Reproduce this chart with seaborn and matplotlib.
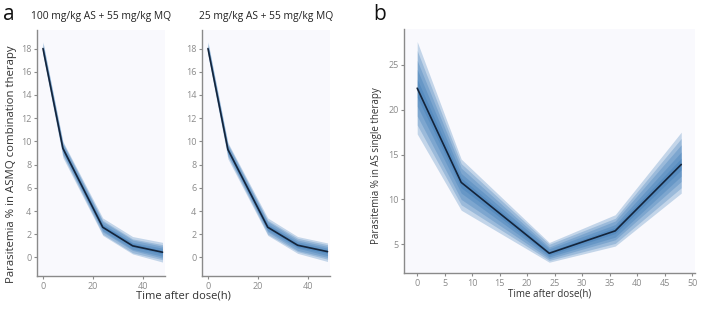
import numpy as np
import pandas as pd
import matplotlib
matplotlib.use("Agg")
import matplotlib.pyplot as plt
import seaborn as sns

sns.set_theme(style="white")
plt.rcParams['font.family'] = ['Open Sans', 'DejaVu Sans']

# ---- data ----
time_h = [0, 8, 24, 36, 48]

# panel a, left: 100 mg/kg AS + 55 mg/kg MQ
a1_mean = [18.0, 9.4, 2.6, 1.0, 0.45]
a1_hi = [[18.6, 10.0, 3.4, 1.8, 1.30],
         [18.5, 9.9, 3.2, 1.6, 1.10],
         [18.4, 9.8, 3.1, 1.5, 0.96],
         [18.2, 9.6, 2.9, 1.3, 0.80],
         [18.1, 9.5, 2.8, 1.2, 0.60]]
a1_lo = [[17.4, 8.6, 1.9, 0.3, -0.40],
         [17.5, 8.8, 2.0, 0.4, -0.20],
         [17.6, 8.9, 2.2, 0.6, -0.06],
         [17.8, 9.1, 2.3, 0.7, 0.10],
         [17.9, 9.2, 2.5, 0.9, 0.30]]

# panel a, right: 25 mg/kg AS + 55 mg/kg MQ
a2_mean = [18.0, 9.3, 2.6, 1.05, 0.5]
a2_hi = [[18.6, 9.9, 3.4, 1.8, 1.25],
         [18.5, 9.8, 3.2, 1.65, 1.10],
         [18.4, 9.7, 3.1, 1.5, 0.95],
         [18.2, 9.5, 2.9, 1.35, 0.80],
         [18.1, 9.4, 2.8, 1.2, 0.65]]
a2_lo = [[17.4, 8.5, 1.9, 0.35, -0.35],
         [17.5, 8.7, 2.0, 0.5, -0.15],
         [17.6, 8.8, 2.2, 0.6, 0.0],
         [17.8, 9.0, 2.3, 0.8, 0.15],
         [17.9, 9.1, 2.5, 0.9, 0.35]]

# panel b: AS single therapy
b_mean = [22.4, 11.9, 4.0, 6.5, 13.9]
b_hi = [[27.6, 14.5, 5.2, 8.3, 17.5],
        [26.6, 14.0, 5.0, 7.9, 16.8],
        [25.5, 13.5, 4.7, 7.6, 16.1],
        [24.5, 12.9, 4.5, 7.2, 15.3],
        [23.4, 12.4, 4.2, 6.9, 14.6]]
b_lo = [[17.3, 8.8, 3.0, 4.8, 10.7],
        [18.3, 9.4, 3.2, 5.1, 11.3],
        [19.3, 10.0, 3.4, 5.5, 12.0],
        [20.4, 10.7, 3.6, 5.8, 12.6],
        [21.4, 11.3, 3.8, 6.2, 13.3]]

titles_a = ["100 mg/kg AS + 55 mg/kg MQ", "25 mg/kg AS + 55 mg/kg MQ"]
ylabel_a = "Parasitemia % in ASMQ combination therapy"
ylabel_b = "Parasitemia % in AS single therapy"
xlabel = "Time after dose(h)"

# ---- style ----
W, H = 724, 322
fig = plt.figure(figsize=(W / 100, H / 100), dpi=100)
fig.patch.set_facecolor("white")

band_color = "#2a6fb0"
line_color = "#14243a"
bg_color = "#f9f9fd"
spine_color = "#8a8a8a"
tick_color = "#8a8a8a"


def px_axes(left, right, top, bottom):
    return fig.add_axes([left / W, (H - bottom) / H, (right - left) / W, (bottom - top) / H])


def draw(ax, mean, his, los, xlim, ylim, xticks, yticks):
    ax.set_facecolor(bg_color)
    for hi, lo in zip(his, los):
        ax.fill_between(time_h, lo, hi, color=band_color, alpha=0.26, linewidth=0)
    df = pd.DataFrame({"t": time_h, "v": mean})
    sns.lineplot(data=df, x="t", y="v", ax=ax, color=line_color, linewidth=1.2)
    ax.set_xlim(*xlim)
    ax.set_ylim(*ylim)
    ax.set_xticks(xticks)
    ax.set_yticks(yticks)
    for s in ["top", "right"]:
        ax.spines[s].set_visible(False)
    for s in ["left", "bottom"]:
        ax.spines[s].set_color(spine_color)
        ax.spines[s].set_linewidth(1.0)
    ax.tick_params(axis="both", which="both", direction="out", length=2.5, width=0.8,
                   color=tick_color, labelcolor="#8a8a8a", labelsize=6.5, pad=1.5,
                   left=True, bottom=True)
    ax.set_xlabel("")
    ax.set_ylabel("")


ax1 = px_axes(37, 165, 30, 276)
draw(ax1, a1_mean, a1_hi, a1_lo, (-2.4, 49), (-1.6, 19.6), [0, 20, 40], list(range(0, 19, 2)))
ax2 = px_axes(202, 330, 30, 276)
draw(ax2, a2_mean, a2_hi, a2_lo, (-2.4, 49), (-1.6, 19.6), [0, 20, 40], list(range(0, 19, 2)))
ax3 = px_axes(404, 695, 29, 273)
draw(ax3, b_mean, b_hi, b_lo, (-2.4, 50.5), (1.8, 29.0), list(range(0, 51, 5)), [5, 10, 15, 20, 25])

fig.text(101 / W, 1 - 16 / H, titles_a[0], fontsize=7.4, color="#222222", va="center", ha="center")
fig.text(266 / W, 1 - 16 / H, titles_a[1], fontsize=7.4, color="#222222", va="center", ha="center")

fig.text(3 / W, 1 - 14 / H, "a", fontsize=15, color="#111111", va="center", ha="left")
fig.text(373 / W, 1 - 14 / H, "b", fontsize=15, color="#111111", va="center", ha="left")

fig.text(12 / W, 1 - 164 / H, ylabel_a, rotation=90, fontsize=8.2, color="#333333",
         va="center", ha="center")
fig.text(183 / W, 1 - 296 / H, xlabel, fontsize=8.0, color="#333333", va="center", ha="center")

fig.text(377 / W, 1 - 166 / H, ylabel_b, rotation=90, fontsize=7.0, color="#333333",
         va="center", ha="center")
fig.text(550 / W, 1 - 294 / H, xlabel, fontsize=7.0, color="#333333", va="center", ha="center")

fig.savefig("out.png", dpi=100, facecolor="white")
